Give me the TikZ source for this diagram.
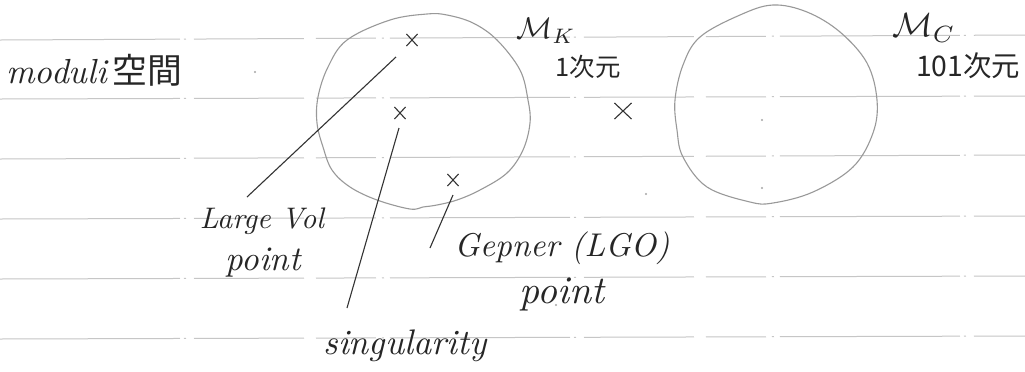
\documentclass[tikz,border=0pt]{standalone}
\usepackage{fontspec}
\usepackage{graphicx}
\newfontfamily\jp{Noto Sans CJK JP}
\usetikzlibrary{shapes.misc}
\newcommand\fitw[2]{\resizebox{#1}{!}{#2}}
\tikzset{
  ruled/.style={draw=gray!45, line width=0.5pt,
    dash pattern=on 90pt off 2pt on 1pt off 4pt on 55pt off 6pt on 30pt off 3pt on 1pt off 3pt},
  ring/.style={draw=gray!80, line width=0.55pt},
  pointer/.style={draw=black!80, line width=0.55pt},
  xmark/.style={cross out, draw=black!80, line width=0.55pt,
    minimum width=5pt, minimum height=5.5pt, inner sep=0pt},
  bigxmark/.style={xmark, minimum width=8pt, minimum height=7.5pt},
  hand/.style={inner sep=0pt, text=black!85},
  speck/.style={fill=gray!70, draw=none},
}
\begin{document}
\begin{tikzpicture}[x=0.5pt,y=-0.5pt]
\fill[white] (0,0) rectangle (1025,371);
\useasboundingbox (0,0) rectangle (1025,371);
% ruled lines of the paper
\foreach \ya/\yb in {40/35, 99/96, 159/155, 219/216, 279/276, 339/336}
  \draw[ruled] (0,\ya) -- (1025,\yb);
% the two moduli regions
\draw[ring] plot[smooth cycle, tension=0.6] coordinates {
  (427,14) (390,20) (347,40) (328,67) (318,97) (317,123) (323,147)
  (332,170) (350,187) (377,200) (410,209) (423,207) (437,205) (457,200)
  (480,190) (507,173) (523,150) (530,123) (528,100) (520,70) (497,40)
  (473,23) (447,15)};
\draw[ring] plot[smooth cycle, tension=0.6] coordinates {
  (773,5) (740,15) (700,37) (683,65) (675,100) (677,130) (683,157)
  (707,187) (750,202) (773,203) (813,192) (853,167) (873,133) (877,100)
  (867,63) (840,32) (807,12)};
% points
\node[xmark] (lv) at (412,40) {};
\node[xmark] (sg) at (400,113) {};
\node[xmark] (gp) at (453,180) {};
\node[bigxmark] (mid) at (623,111) {};
% texts
\node[hand] (moduli) at (94.5,70) {\fitw{88pt}{\itshape moduli\,{\jp 空間}}};
\node[hand] (mk) at (546,31) {\fitw{29.5pt}{$\mathcal{M}_K$}};
\node[hand] (mkdim) at (588,67) {\fitw{32.5pt}{\jp 1次元}};
\node[hand] (mc) at (924,28) {\fitw{31.5pt}{$\mathcal{M}_C$}};
\node[hand] (mcdim) at (968,66) {\fitw{52pt}{\jp 101次元}};
\node[hand] (lvtext) at (262,221) {\fitw{62pt}{\itshape Large Vol}};
\node[hand] (lvpoint) at (263,263) {\fitw{37.5pt}{\itshape point}};
\node[hand] (gptext) at (562,248) {\fitw{107.5pt}{\itshape Gepner (LGO)}};
\node[hand] (gppoint) at (562,294) {\fitw{42.5pt}{\itshape point}};
\node[hand] (sgtext) at (405,346) {\fitw{81.5pt}{\itshape singularity}};
% pointer ends
\coordinate (lvA) at (396,57);
\coordinate (lvB) at (247,197);
\coordinate (sgA) at (399,128);
\coordinate (sgB) at (347,308);
\coordinate (gpA) at (453,195);
\coordinate (gpB) at (430,248);
\draw[pointer] (lvA) -- (lvB);
\draw[pointer] (sgA) -- (sgB);
\draw[pointer] (gpA) -- (gpB);
% specks of the scan
\foreach \p in {(255,72),(762,120),(762,188),(646,194),(556,305)}
  \fill[speck] \p circle (1.1);
\end{tikzpicture}
\end{document}
